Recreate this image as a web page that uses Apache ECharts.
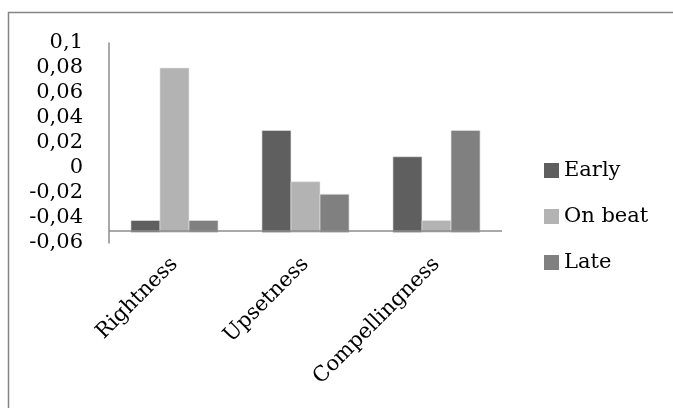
<!DOCTYPE html>
<html>
<head>
<meta charset="utf-8">
<script src="https://cdn.jsdelivr.net/npm/echarts@6/dist/echarts.min.js"></script>
<style>
html,body{margin:0;padding:0;background:#fff;}
#chart{width:673px;height:408px;}
</style>
</head>
<body>
<div id="chart"></div>
<script>
var categories = ['Rightness', 'Upsetness', 'Compellingness'];
var seriesNames = ['Early', 'On beat', 'Late'];
var early = [-0.042, 0.03, 0.009];
var onBeat = [0.08, -0.011, -0.042];
var late = [-0.042, -0.021, 0.03];
var yMin = -0.06, yMax = 0.1, yInterval = 0.02;
var axisCross = -0.0515; // value where the horizontal axis crosses
var colors = ['#5f5f5f', '#b3b3b3', '#808080'];
var FONT = 'DejaVu Serif';
var GAP = 0.335;

var chart = echarts.init(document.getElementById('chart'));

function makeRender(s) {
  return function (params, api) {
    var ci = api.value(0), v = api.value(1);
    var band = api.size([1, 0])[0];
    var groupW = band * (1 - GAP);
    var barW = groupW / 3;
    var top = api.coord([ci, v]);
    var base = api.coord([ci, axisCross]);
    var x = top[0] - groupW / 2 + s * barW;
    return {
      type: 'rect',
      shape: { x: x, y: Math.min(top[1], base[1]), width: barW, height: Math.abs(base[1] - top[1]) },
      style: { fill: api.visual('color'), stroke: '#e6e6e6', lineWidth: 0.6 }
    };
  };
}

function toData(arr) { return arr.map(function (v, i) { return [i, v]; }); }
var allValues = [early, onBeat, late];

var series = seriesNames.map(function (name, s) {
  return {
    type: 'custom',
    name: name,
    renderItem: makeRender(s),
    encode: { x: 0, y: 1 },
    data: toData(allValues[s]),
    itemStyle: { color: colors[s] }
  };
});
series.push({
  type: 'line',
  data: [],
  silent: true,
  markLine: {
    silent: true,
    symbol: 'none',
    label: { show: false },
    lineStyle: { color: '#8c8c8c', width: 1.5, type: 'solid' },
    data: [{ yAxis: axisCross }]
  }
});

chart.setOption({
  animation: false,
  color: colors,
  graphic: [{
    type: 'polyline',
    shape: { points: [[8.5, 420], [8.5, 12.5], [690, 12.5]] },
    style: { fill: 'none', stroke: '#858585', lineWidth: 1.5 },
    silent: true
  }],
  grid: { left: 109, top: 43, width: 393, height: 200 },
  legend: {
    data: seriesNames,
    orient: 'vertical',
    left: 539,
    top: 155,
    itemWidth: 15,
    itemHeight: 15,
    itemGap: 25,
    icon: 'rect',
    textStyle: { fontFamily: FONT, fontSize: 21, color: '#000' }
  },
  xAxis: {
    type: 'category',
    data: categories,
    axisLine: { show: false },
    axisTick: { show: false },
    axisLabel: {
      rotate: 45,
      margin: 18,
      fontFamily: FONT,
      fontSize: 21,
      color: '#000',
      interval: 0
    }
  },
  yAxis: {
    type: 'value',
    min: yMin,
    max: yMax,
    interval: yInterval,
    splitLine: { show: false },
    axisTick: { show: false },
    axisLine: { show: true, lineStyle: { color: '#8c8c8c', width: 1.5 } },
    axisLabel: {
      margin: 26,
      fontFamily: FONT,
      fontSize: 21,
      color: '#000',
      formatter: function (v) { return Number(v.toFixed(4)).toString().replace('.', ','); }
    }
  },
  series: series
});
</script>
</body>
</html>
